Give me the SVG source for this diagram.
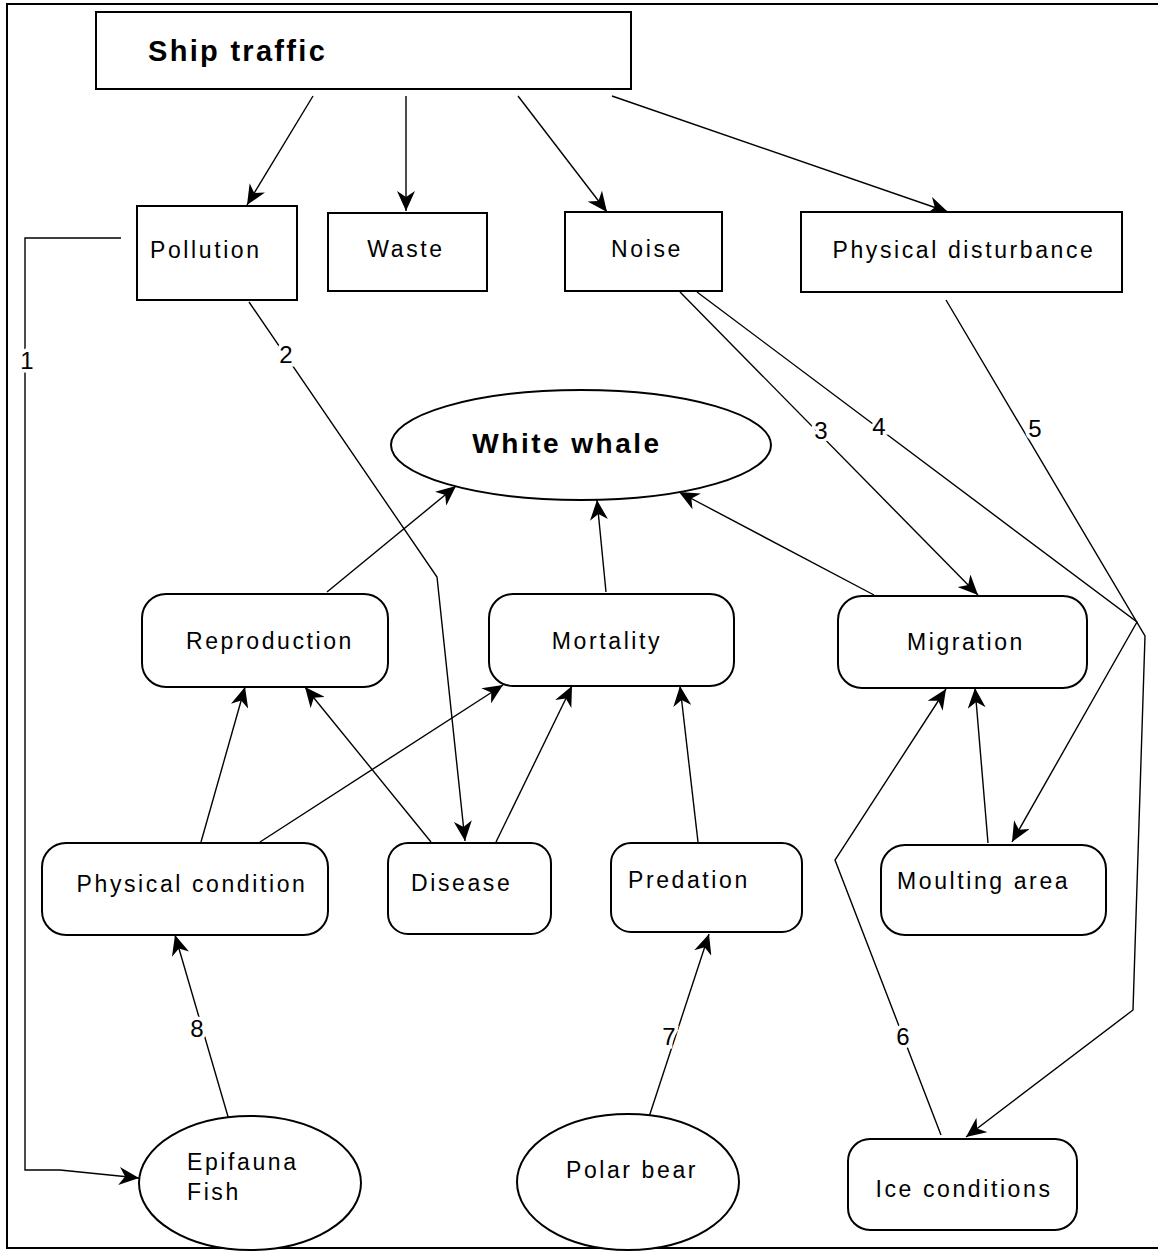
<svg xmlns="http://www.w3.org/2000/svg" width="1158" height="1252" viewBox="0 0 1158 1252">
<defs>
<style>
.box{fill:#fff;stroke:#000;stroke-width:2}
.lbl{font-family:"Liberation Sans",Arial,sans-serif;font-size:23px;letter-spacing:2.6px;fill:#000}
.big{font-family:"Liberation Sans",Arial,sans-serif;font-weight:bold;fill:#000}
.con{fill:none;stroke:#000;stroke-width:1.4}
.num{font-family:"Liberation Sans",Arial,sans-serif;font-size:24px;fill:#000;stroke:#fff;stroke-width:7;paint-order:stroke;text-anchor:middle}
</style>
<marker id="ah" markerWidth="22" markerHeight="18" refX="20" refY="9" orient="auto" markerUnits="userSpaceOnUse">
<path d="M0,0 L20,9 L0,18 L6,9 z" fill="#000"/>
</marker>
</defs>
<rect x="7" y="4" width="1160" height="1244" fill="none" stroke="#000" stroke-width="2"/>

<g id="connectors">
<line class="con" x1="313" y1="96" x2="247" y2="205" marker-end="url(#ah)"/>
<line class="con" x1="406" y1="96" x2="406" y2="211" marker-end="url(#ah)"/>
<line class="con" x1="518" y1="96" x2="607" y2="212" marker-end="url(#ah)"/>
<line class="con" x1="612" y1="96" x2="948" y2="212" marker-end="url(#ah)"/>
<polyline class="con" points="121,238 25,238 25,1170 60,1170 139,1178" marker-end="url(#ah)"/>
<polyline class="con" points="249,302 437,577 465,841" marker-end="url(#ah)"/>
<line class="con" x1="680" y1="292" x2="978" y2="595" marker-end="url(#ah)"/>
<polyline class="con" points="697,292 1137,622 1012,842" marker-end="url(#ah)"/>
<polyline class="con" points="946,300 1145,636 1133,1010 966,1137" marker-end="url(#ah)"/>
<polyline class="con" points="941,1135 835,860 946,689" marker-end="url(#ah)"/>
<line class="con" x1="648" y1="1120" x2="709" y2="934" marker-end="url(#ah)"/>
<line class="con" x1="229" y1="1120" x2="175" y2="935" marker-end="url(#ah)"/>
<line class="con" x1="327" y1="592" x2="456" y2="486" marker-end="url(#ah)"/>
<line class="con" x1="606" y1="592" x2="597" y2="500" marker-end="url(#ah)"/>
<line class="con" x1="874" y1="595" x2="679" y2="492" marker-end="url(#ah)"/>
<line class="con" x1="201" y1="842" x2="245" y2="687" marker-end="url(#ah)"/>
<line class="con" x1="431" y1="842" x2="305" y2="687" marker-end="url(#ah)"/>
<line class="con" x1="260" y1="842" x2="503" y2="685" marker-end="url(#ah)"/>
<line class="con" x1="496" y1="842" x2="572" y2="686" marker-end="url(#ah)"/>
<line class="con" x1="698" y1="842" x2="680" y2="686" marker-end="url(#ah)"/>
<line class="con" x1="988" y1="843" x2="975" y2="688" marker-end="url(#ah)"/>
<text class="num" x="27" y="369">1</text>
<text class="num" x="286" y="363">2</text>
<text class="num" x="821" y="439">3</text>
<text class="num" x="879" y="435">4</text>
<text class="num" x="1035" y="437">5</text>
<text class="num" x="903" y="1045">6</text>
<text class="num" x="669" y="1045">7</text>
<text class="num" x="197" y="1037">8</text>
</g>

<g id="ship-traffic"><rect class="box" x="96" y="12" width="535" height="77"/><text class="big" x="148" y="61" font-size="29" letter-spacing="2.3">Ship traffic</text></g>
<g id="pollution"><rect class="box" x="137" y="206" width="160" height="94"/><text class="lbl" x="150" y="258" letter-spacing="1">Pollution</text></g>
<g id="waste"><rect class="box" x="328" y="213" width="159" height="78"/><text class="lbl" x="406" y="257" text-anchor="middle" letter-spacing="1">Waste</text></g>
<g id="noise"><rect class="box" x="565" y="212" width="157" height="79"/><text class="lbl" x="647" y="257" text-anchor="middle" letter-spacing="1">Noise</text></g>
<g id="physical-disturbance"><rect class="box" x="801" y="212" width="321" height="80"/><text class="lbl" x="964" y="258" text-anchor="middle">Physical disturbance</text></g>
<g id="white-whale"><ellipse class="box" cx="581" cy="445" rx="190" ry="55"/><text class="big" x="567" y="453" font-size="28" letter-spacing="2.5" text-anchor="middle">White whale</text></g>
<g id="reproduction"><rect class="box" x="142" y="594" width="246" height="93" rx="24"/><text class="lbl" x="270" y="649" text-anchor="middle">Reproduction</text></g>
<g id="mortality"><rect class="box" x="489" y="594" width="245" height="92" rx="24"/><text class="lbl" x="607" y="649" text-anchor="middle">Mortality</text></g>
<g id="migration"><rect class="box" x="838" y="596" width="249" height="92" rx="24"/><text class="lbl" x="966" y="650" text-anchor="middle">Migration</text></g>
<g id="physical-condition"><rect class="box" x="42" y="843" width="286" height="92" rx="24"/><text class="lbl" x="192" y="892" text-anchor="middle">Physical condition</text></g>
<g id="disease"><rect class="box" x="388" y="843" width="163" height="91" rx="20"/><text class="lbl" x="411" y="891">Disease</text></g>
<g id="predation"><rect class="box" x="611" y="843" width="191" height="89" rx="20"/><text class="lbl" x="628" y="888">Predation</text></g>
<g id="moulting-area"><rect class="box" x="881" y="845" width="225" height="90" rx="24"/><text class="lbl" x="897" y="889">Moulting area</text></g>
<g id="epifauna-fish"><ellipse class="box" cx="250" cy="1183" rx="111" ry="67"/><text class="lbl" x="187" y="1170" letter-spacing="1">Epifauna</text><text class="lbl" x="187" y="1200" letter-spacing="1">Fish</text></g>
<g id="polar-bear"><ellipse class="box" cx="628" cy="1182" rx="111" ry="68"/><text class="lbl" x="632" y="1178" text-anchor="middle" letter-spacing="1.5">Polar bear</text></g>
<g id="ice-conditions"><rect class="box" x="848" y="1139" width="229" height="91" rx="22"/><text class="lbl" x="964" y="1197" text-anchor="middle" letter-spacing="1.5">Ice conditions</text></g>
</svg>
